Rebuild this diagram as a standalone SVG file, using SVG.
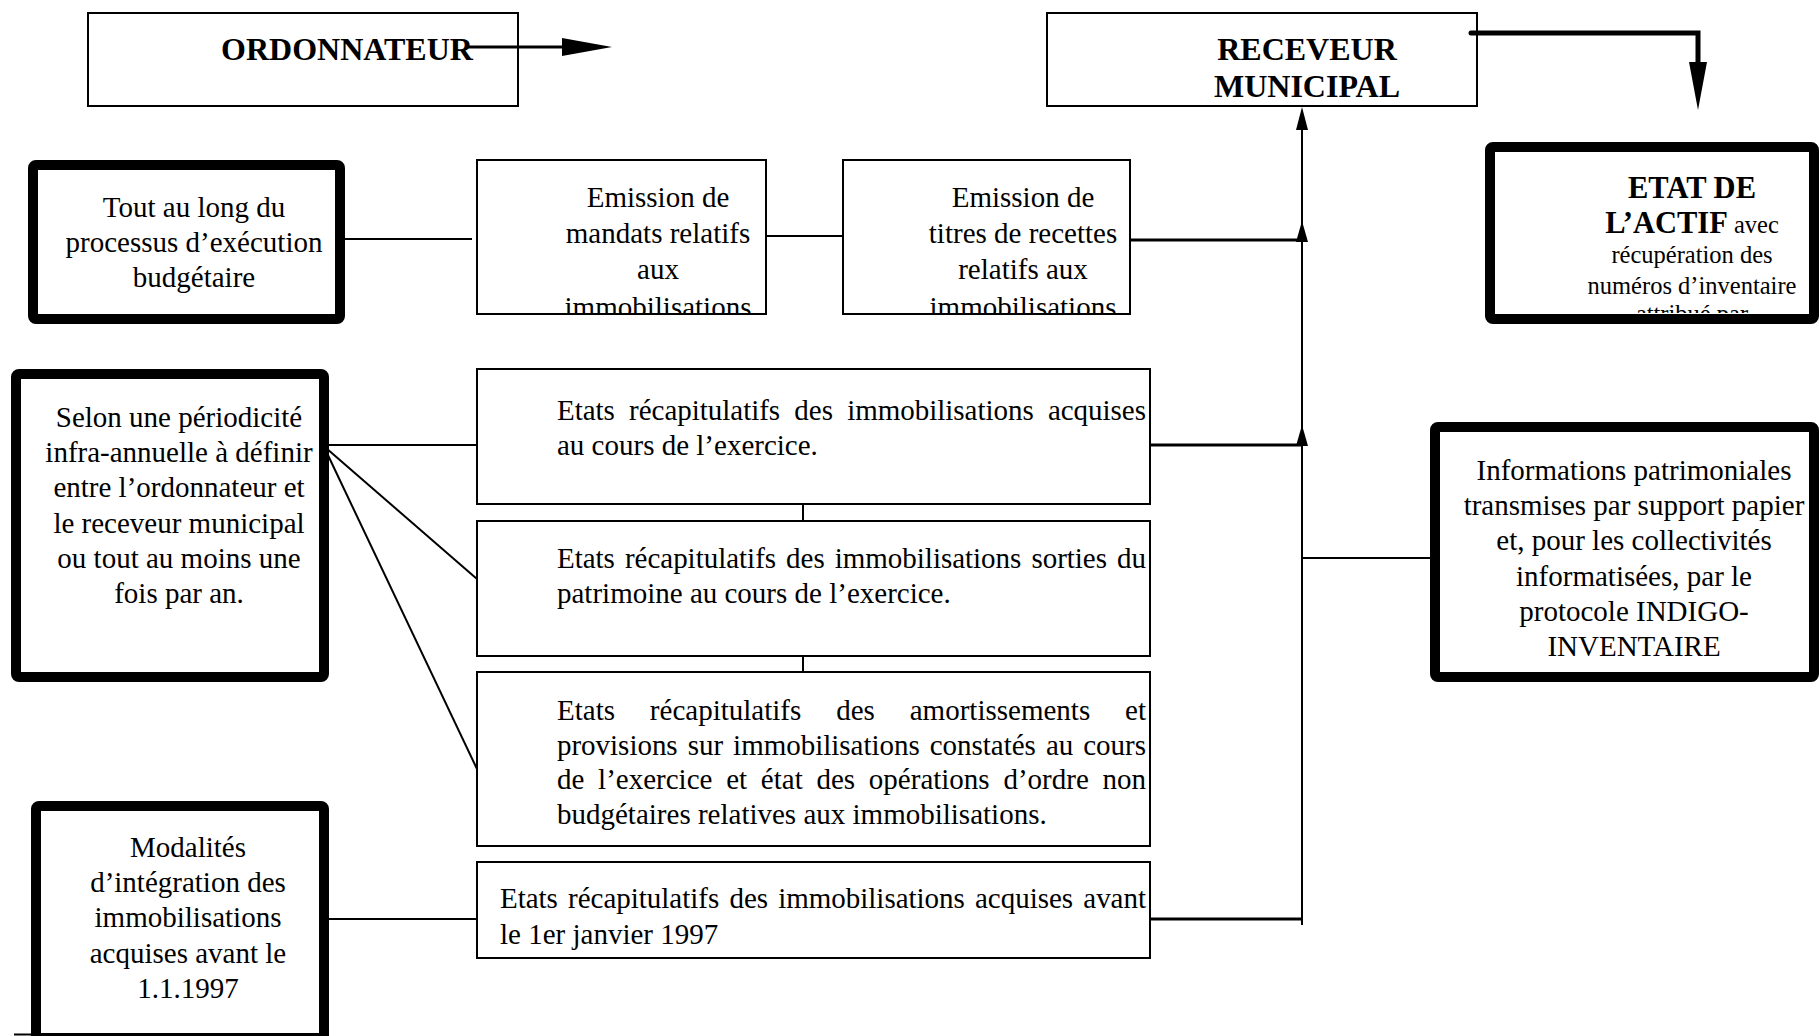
<svg xmlns="http://www.w3.org/2000/svg" width="1819" height="1036" viewBox="0 0 1819 1036">
  <style>
    .t { font-family: "Liberation Serif", "Times New Roman", serif; font-size: 29px; fill: #000; }
    .c { text-anchor: middle; }
    .b { font-weight: bold; font-size: 32px; }
    .hb { font-weight: bold; font-size: 30.5px; }
    .s { font-size: 24.5px; }
    .box { fill: #fff; stroke: #000; stroke-width: 2; }
    .thick { fill: #fff; stroke: #000; stroke-width: 10; stroke-linejoin: round; }
    .ln { fill: none; stroke: #000; stroke-width: 2; }
    .ln3 { fill: none; stroke: #000; stroke-width: 3; }
    .head { fill: #000; stroke: none; }
  </style>
  <defs>
    <clipPath id="clipMandats"><rect x="478" y="161" width="287" height="152"/></clipPath>
    <clipPath id="clipTitres"><rect x="844" y="161" width="285" height="152"/></clipPath>
    <clipPath id="clipActif"><rect x="1495" y="152" width="314" height="161"/></clipPath>
  </defs>
  <rect width="1819" height="1036" fill="#fff"/>

  <!-- top actors -->
  <g id="ordonnateur">
    <rect class="box" x="88" y="13" width="430" height="93"/>
    <text class="t b c" x="347" y="60">ORDONNATEUR</text>
  </g>
  <g id="receveur">
    <rect class="box" x="1047" y="13" width="430" height="93"/>
    <text class="t b c" x="1307" y="60">RECEVEUR</text>
    <text class="t b c" x="1307" y="97">MUNICIPAL</text>
  </g>

  <!-- left-hand timing boxes -->
  <g id="tout-au-long">
    <rect class="thick" x="33" y="165" width="307" height="154" rx="3"/>
    <text class="t c" x="194" y="217">Tout au long du</text>
    <text class="t c" x="194" y="252">processus d’exécution</text>
    <text class="t c" x="194" y="287">budgétaire</text>
  </g>
  <g id="periodicite">
    <rect class="thick" x="16" y="374" width="308" height="303" rx="3"/>
    <text class="t c" x="179" y="427">Selon une périodicité</text>
    <text class="t c" x="179" y="462">infra-annuelle à définir</text>
    <text class="t c" x="179" y="497">entre l’ordonnateur et</text>
    <text class="t c" x="179" y="533">le receveur municipal</text>
    <text class="t c" x="179" y="568">ou tout au moins une</text>
    <text class="t c" x="179" y="603">fois par an.</text>
  </g>
  <g id="modalites">
    <rect class="thick" x="36" y="806" width="288" height="232" rx="3"/>
    <line class="ln" x1="14" y1="1034.5" x2="36" y2="1034.5"/>
    <text class="t c" x="188" y="857">Modalités</text>
    <text class="t c" x="188" y="892">d’intégration des</text>
    <text class="t c" x="188" y="927">immobilisations</text>
    <text class="t c" x="188" y="963">acquises avant le</text>
    <text class="t c" x="188" y="998">1.1.1997</text>
  </g>

  <!-- emissions -->
  <g id="mandats">
    <rect class="box" x="477" y="160" width="289" height="154"/>
    <g clip-path="url(#clipMandats)">
      <text class="t c" x="658" y="207">Emission de</text>
      <text class="t c" x="658" y="243">mandats relatifs</text>
      <text class="t c" x="658" y="279">aux</text>
      <text class="t c" x="658" y="317">immobilisations</text>
    </g>
  </g>
  <g id="titres">
    <rect class="box" x="843" y="160" width="287" height="154"/>
    <g clip-path="url(#clipTitres)">
      <text class="t c" x="1023" y="207">Emission de</text>
      <text class="t c" x="1023" y="243">titres de recettes</text>
      <text class="t c" x="1023" y="279">relatifs aux</text>
      <text class="t c" x="1023" y="317">immobilisations</text>
    </g>
  </g>

  <!-- periodic statements -->
  <g id="etats-acquises">
    <rect class="box" x="477" y="369" width="673" height="135"/>
    <text class="t" x="557" y="420" word-spacing="7" textLength="589" lengthAdjust="spacing">Etats récapitulatifs des immobilisations acquises</text>
    <text class="t" x="557" y="455">au cours de l’exercice.</text>
  </g>
  <g id="etats-sorties">
    <rect class="box" x="477" y="521" width="673" height="135"/>
    <text class="t" x="557" y="568" word-spacing="2.8" textLength="589" lengthAdjust="spacing">Etats récapitulatifs des immobilisations sorties du</text>
    <text class="t" x="557" y="603">patrimoine au cours de l’exercice.</text>
  </g>
  <g id="etats-amortissements">
    <rect class="box" x="477" y="672" width="673" height="174"/>
    <text class="t" x="557" y="720" word-spacing="27.6" textLength="589" lengthAdjust="spacing">Etats récapitulatifs des amortissements et</text>
    <text class="t" x="557" y="755" word-spacing="2.8" textLength="589" lengthAdjust="spacing">provisions sur immobilisations constatés au cours</text>
    <text class="t" x="557" y="789" word-spacing="6.5" textLength="589" lengthAdjust="spacing">de l’exercice et état des opérations d’ordre non</text>
    <text class="t" x="557" y="824">budgétaires relatives aux immobilisations.</text>
  </g>
  <g id="etats-avant-1997">
    <rect class="box" x="477" y="862" width="673" height="96"/>
    <text class="t" x="500" y="908" word-spacing="3" textLength="646" lengthAdjust="spacing">Etats récapitulatifs des immobilisations acquises avant</text>
    <text class="t" x="500" y="944">le 1er janvier 1997</text>
  </g>

  <!-- outputs -->
  <g id="etat-actif">
    <g clip-path="url(#clipActif)">
      <text class="t hb c" x="1692" y="198">ETAT DE</text>
      <text class="t c" x="1692" y="233"><tspan class="hb">L’ACTIF</tspan><tspan class="s"> avec</tspan></text>
      <text class="t s c" x="1692" y="263">récupération des</text>
      <text class="t s c" x="1692" y="294">numéros d’inventaire</text>
      <text class="t s c" x="1692" y="322">attribué par</text>
    </g>
    <rect class="thick" x="1490" y="147" width="324" height="172" rx="3" style="fill:none"/>
  </g>
  <g id="informations">
    <rect class="thick" x="1435" y="427" width="379" height="250" rx="3"/>
    <text class="t c" x="1634" y="480">Informations patrimoniales</text>
    <text class="t c" x="1634" y="515">transmises par support papier</text>
    <text class="t c" x="1634" y="550">et, pour les collectivités</text>
    <text class="t c" x="1634" y="586">informatisées, par le</text>
    <text class="t c" x="1634" y="621">protocole INDIGO-</text>
    <text class="t c" x="1634" y="656">INVENTAIRE</text>
  </g>

  <!-- connectors -->
  <g id="connectors">
    <!-- ordonnateur outgoing arrow -->
    <line class="ln3" x1="466" y1="47" x2="565" y2="47"/>
    <polygon class="head" points="562,38 612,47 562,56"/>
    <!-- receveur to état de l'actif -->
    <path d="M1471,33 H1698 V64" fill="none" stroke="#000" stroke-width="5" stroke-linecap="round"/>
    <polygon class="head" points="1689,62 1707,62 1698,110"/>

    <!-- collector line up to the receveur -->
    <line class="ln" x1="1302" y1="126" x2="1302" y2="925"/>
    <polygon class="head" points="1296,130 1302,107 1308,130"/>
    <polygon class="head" points="1296,242 1302,221 1308,242"/>
    <polygon class="head" points="1296,446 1302,425 1308,446"/>

    <!-- top row -->
    <line class="ln" x1="344" y1="239" x2="472" y2="239"/>
    <line class="ln" x1="766" y1="236" x2="843" y2="236"/>
    <line class="ln3" x1="1130" y1="240" x2="1302" y2="240"/>

    <!-- periodic statements -->
    <line class="ln" x1="326" y1="445" x2="477" y2="445"/>
    <line class="ln" x1="326" y1="448" x2="477" y2="579"/>
    <line class="ln" x1="326" y1="451" x2="477" y2="769"/>
    <line class="ln" x1="803" y1="504" x2="803" y2="521"/>
    <line class="ln" x1="803" y1="656" x2="803" y2="672"/>
    <line class="ln3" x1="1150" y1="445" x2="1302" y2="445"/>

    <!-- informations link -->
    <line class="ln" x1="1302" y1="558" x2="1435" y2="558"/>

    <!-- assets acquired before 1997 -->
    <line class="ln" x1="326" y1="919" x2="477" y2="919"/>
    <line class="ln3" x1="1150" y1="919" x2="1302" y2="919"/>
  </g>
</svg>
